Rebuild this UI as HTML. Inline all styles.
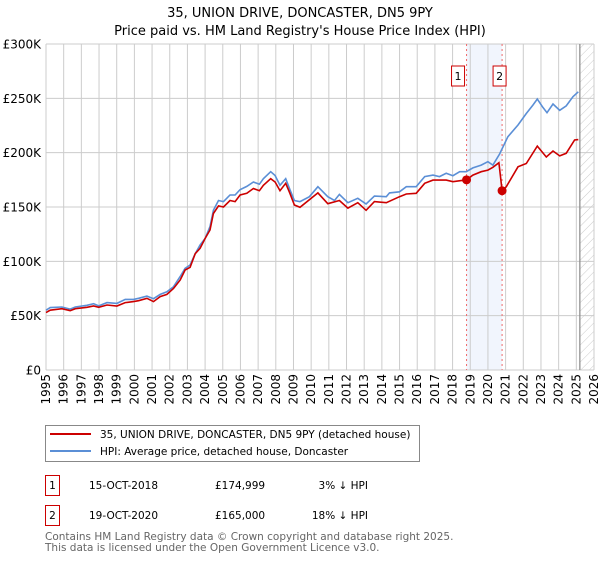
<!DOCTYPE html>
<html><head><meta charset="utf-8"><style>
body{margin:0;background:#fff;font-family:"DejaVu Sans","Liberation Sans",sans-serif;}
svg text{font-family:"DejaVu Sans","Liberation Sans",sans-serif;}
</style></head><body>
<svg id="c" width="600" height="560" xmlns="http://www.w3.org/2000/svg">
<defs><pattern id="hatch" width="6" height="6" patternUnits="userSpaceOnUse" patternTransform="rotate(45)"><line x1="0" y1="0" x2="0" y2="6" stroke="#ccc" stroke-width="1"/></pattern></defs>
<text x="300" y="17" text-anchor="middle" font-size="13">35, UNION DRIVE, DONCASTER, DN5 9PY</text>
<text x="300" y="35" text-anchor="middle" font-size="13">Price paid vs. HM Land Registry's House Price Index (HPI)</text>
<g id="grid"></g><g id="marks"></g>
<g>
<rect x="45.5" y="425.5" width="374" height="36" fill="#fff" stroke="#888"/>
<line x1="50" y1="434" x2="91" y2="434" stroke="#cc0000" stroke-width="2"/>
<text x="100" y="438" font-size="10.5">35, UNION DRIVE, DONCASTER, DN5 9PY (detached house)</text>
<line x1="50" y1="451" x2="91" y2="451" stroke="#5b8fd6" stroke-width="2"/>
<text x="100" y="455" font-size="10.5">HPI: Average price, detached house, Doncaster</text>
</g>
<g font-size="10.5">
<rect x="45.5" y="475.5" width="14" height="20" fill="#fff" stroke="#cc0000"/><text x="52.5" y="489" text-anchor="middle">1</text>
<text x="89" y="489">15-OCT-2018</text><text x="215" y="489">£174,999</text><text x="368" y="489" text-anchor="end">3% ↓ HPI</text>
<rect x="45.5" y="505.5" width="14" height="20" fill="#fff" stroke="#cc0000"/><text x="52.5" y="519" text-anchor="middle">2</text>
<text x="89" y="519">19-OCT-2020</text><text x="215" y="519">£165,000</text><text x="368" y="519" text-anchor="end">18% ↓ HPI</text>
</g>
<text x="45" y="540" font-size="10.5" fill="#666">Contains HM Land Registry data © Crown copyright and database right 2025.</text>
<text x="45" y="551" font-size="10.5" fill="#666">This data is licensed under the Open Government Licence v3.0.</text>
</svg>
<script>
const hpiYears=[1995.0,1995.24,1995.9,1996.37,1996.66,1997.32,1997.69,1997.98,1998.45,1999.01,1999.48,1999.95,2000.24,2000.71,2001.08,2001.46,2001.84,2002.21,2002.59,2002.87,2003.15,2003.44,2003.72,2004.0,2004.28,2004.47,2004.76,2005.04,2005.41,2005.7,2005.98,2006.36,2006.73,2007.07,2007.3,2007.71,2007.96,2008.24,2008.56,2008.8,2009.05,2009.37,2009.9,2010.38,2010.94,2011.32,2011.6,2012.08,2012.64,2013.11,2013.58,2014.25,2014.43,2015.0,2015.38,2015.94,2016.42,2016.89,2017.26,2017.64,2018.02,2018.4,2018.77,2019.15,2019.62,2020.0,2020.28,2020.66,2021.13,2021.7,2022.17,2022.55,2022.79,2023.11,2023.34,2023.68,2024.06,2024.43,2024.81,2025.11];
const hpiValues=[55,57.4,58,56,58,59.5,61,59,62,61.3,65,65,66,68,65.6,69.6,72,76.7,86,93.6,96.6,107,115,121,132,147,156,155,161,161,166,169,173,171,176,182.5,179,170,176,166,156,155,159.5,168.7,159.5,156,161.6,154,158,152.8,160,159.5,163,164,168.7,168.7,178,179.4,178,181,178.8,182.5,182.5,186,188.6,191.7,188.6,198.8,214.7,225.5,236,243.9,249.4,241.7,236.8,244.8,239,243,251.5,256];
const ppYears=[1995.0,1995.24,1995.9,1996.37,1996.66,1997.32,1997.69,1997.98,1998.45,1999.01,1999.48,1999.95,2000.24,2000.71,2001.08,2001.46,2001.84,2002.21,2002.59,2002.87,2003.15,2003.44,2003.72,2004.0,2004.28,2004.47,2004.76,2005.04,2005.41,2005.7,2005.98,2006.36,2006.73,2007.07,2007.3,2007.71,2007.96,2008.24,2008.56,2008.8,2009.05,2009.37,2010.38,2010.94,2011.6,2012.08,2012.64,2013.11,2013.58,2014.25,2015.0,2015.38,2015.94,2016.42,2016.89,2017.64,2018.02,2018.79,2019.15,2019.62,2020.0,2020.28,2020.62,2020.8,2021.04,2021.7,2022.17,2022.79,2023.3,2023.68,2024.06,2024.43,2024.9,2025.11];
const ppValues=[52.8,55,56.4,54.6,56.4,57.7,58.9,57.7,59.8,58.9,62,62.9,63.8,66,62.9,67.5,69.6,75,82.8,92,94.5,107,112,121,128.8,144,151,150,156,155,161,162.6,167,165,170,176,173,165,171.8,162.6,151.8,149.7,163,153,156,149,154,147,155,154,159.5,162,162.6,171.8,174.8,174.8,173.3,175,179.4,182.5,184,186.5,190.8,165,168.7,187,190,206,196,201.5,197,199.4,211.7,212];
const saleYears=[2018.79,2020.8];
const saleValues=[174.999,165];
const saleLabels=["1","2"];
const yTicks=[0,50,100,150,200,250,300];
const yTickLabels=["£0","£50K","£100K","£150K","£200K","£250K","£300K"];
const xTicks=[1995,1996,1997,1998,1999,2000,2001,2002,2003,2004,2005,2006,2007,2008,2009,2010,2011,2012,2013,2014,2015,2016,2017,2018,2019,2020,2021,2022,2023,2024,2025,2026];
const NS="http://www.w3.org/2000/svg";
const X0=46,X1=594,Y0=370,Y1=44;
function xs(y){return X0+(y-1995)/(2026-1995)*(X1-X0);}
function ys(v){return Y0-v/300*(Y0-Y1);}
function mk(t,a,p){const e=document.createElementNS(NS,t);for(const k in a)e.setAttribute(k,a[k]);p.appendChild(e);return e;}
const g=document.getElementById('grid'),m=document.getElementById('marks');
const shade=mk('rect',{x:xs(saleYears[0]),y:Y1,width:xs(saleYears[1])-xs(saleYears[0]),height:Y0-Y1,fill:'#eef3fc',opacity:0.8},g);


const hx=xs(2025.2);
const hat=mk('rect',{x:hx,y:Y1,width:X1-hx,height:Y0-Y1,fill:'url(#hatch)'},g);


xTicks.forEach(t=>{const l=mk('line',{x1:xs(t),x2:xs(t),y1:Y1,y2:Y0,stroke:'#ccc'},g);


const tx=mk('text',{x:0,y:0,'font-size':12,'text-anchor':'end',transform:`translate(${xs(t)+4},374) rotate(-90)`},g);tx.textContent=t;

});
yTicks.forEach((t,i)=>{const l=mk('line',{x1:X0,x2:X1,y1:ys(t),y2:ys(t),stroke:'#ccc'},g);


const tx=mk('text',{x:41,y:ys(t)+4.5,'font-size':12,'text-anchor':'end'},g);tx.textContent=yTickLabels[i];

});
const vl=mk('line',{x1:hx,x2:hx,y1:Y1,y2:Y0,stroke:'#888','stroke-width':1.2},g);


saleYears.forEach((s,i)=>{const l=mk('line',{x1:xs(s),x2:xs(s),y1:Y1,y2:Y0,stroke:'#f06a6a','stroke-dasharray':'2,3'},g);


const bx=mk('rect',{x:xs(s)-21+ (i?14:0) -(i?0:0),y:66,width:13,height:20,fill:'#fff',stroke:'#cc0000'},g);
bx.setAttribute('x',xs(s)-7-(i?2:8));


const tx=mk('text',{x:+bx.getAttribute('x')+6.5,y:80,'font-size':11,'text-anchor':'middle'},g);tx.textContent=saleLabels[i];

});
function path(xa,va){return xa.map((x,i)=>(i?'L':'M')+xs(x).toFixed(1)+','+ys(va[i]).toFixed(1)).join('');}
const hp=mk('path',{d:path(hpiYears,hpiValues),fill:'none',stroke:'#5b8fd6','stroke-width':1.6},m);


const pp=mk('path',{d:path(ppYears,ppValues),fill:'none',stroke:'#cc0000','stroke-width':1.6},m);


saleYears.forEach((s,i)=>{const c=mk('circle',{cx:xs(s),cy:ys(saleValues[i]),r:4.5,fill:'#cc0000'},m);

});
</script>
</body></html>
